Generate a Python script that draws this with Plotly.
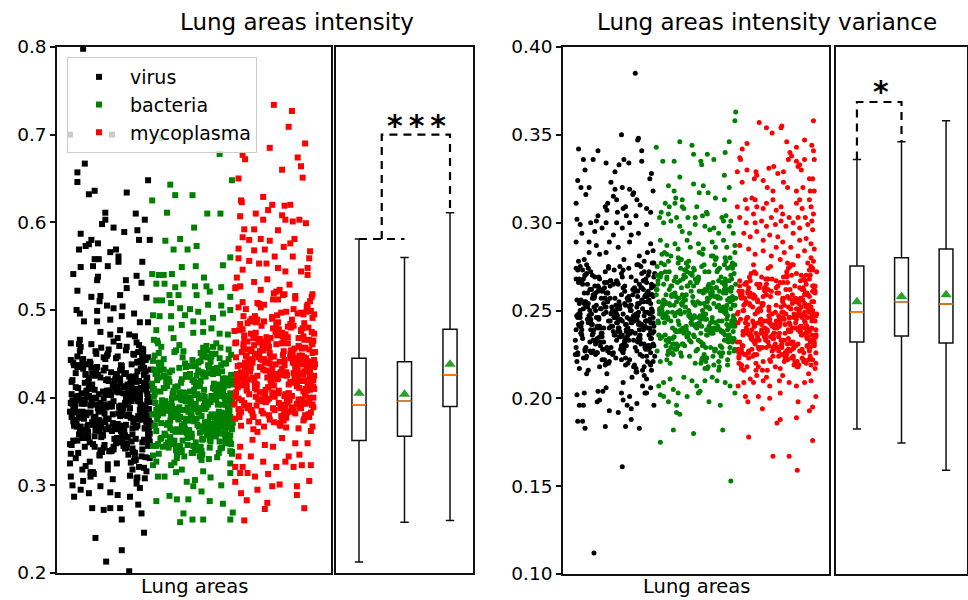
import plotly.graph_objects as go

# ---------------- data ----------------
CATEGORIES = ["virus", "bacteria", "mycoplasma"]
COLORS = ["#000000", "#008000", "#ff0000"]
LEFT_TICKS = [0.2, 0.3, 0.4, 0.5, 0.6, 0.7, 0.8]
RIGHT_TICKS = [0.10, 0.15, 0.20, 0.25, 0.30, 0.35, 0.40]

# box statistics
L_Q1 = [0.351, 0.356, 0.390]
L_MED = [0.392, 0.396, 0.426]
L_Q3 = [0.445, 0.441, 0.478]
L_LO = [0.2125, 0.258, 0.260]
L_HI = [0.581, 0.560, 0.611]
L_MEAN = [0.405, 0.404, 0.438]
R_Q1 = [0.232, 0.2355, 0.2315]
R_MED = [0.249, 0.255, 0.2537]
R_Q3 = [0.2753, 0.280, 0.285]
R_LO = [0.1825, 0.1746, 0.159]
R_HI = [0.336, 0.346, 0.358]
R_MEAN = [0.255, 0.258, 0.259]

# significance brackets (pair base heights, bracket top)
L_SIG = {"base_a": 0.581, "top": 0.700, "base_b": 0.611, "label": "<b>*\u2009*\u2009*</b>"}
R_SIG = {"base_a": 0.336, "top": 0.3687, "base_b": 0.346, "label": "<b>*</b>"}

# shared jitter lists (hundredths of a category width)
JIT_A = [-42, 17, -5, 33, -28, 46, 8, -37, 21, -14, 39, -48, 2, 27, -22, 44, -9, 13, -33, 36,
         -18, 5, 48, -40, 24, -2, -29, 41, 11, -46, 30, -12, 19, -35, 45, -7, 26, -24, 3, 38,
         -44, 15, -17, 34, -31, 9, 47, -26, 22, -3, 40, -38, 6, 29, -20, 43, -11, 16, -47, 31,
         -6, 37, -34, 12, 49, -23, 1, 28, -41, 20, -15, 35, -30, 7, 42, -19, 25, -45, 14, -1,
         32, -36, 10, 46, -27, 18, -8, 39, -43, 23, -13, 4, 36, -32, 27, -21, 44, -4, 11, -39,
         21, -49, 33, 0, -25, 40, -16, 8, 48, -35, 15, -10, 30, -42, 24, -6, 45, -28, 2, 37,
         -14, 26, -37, 13, 43, -22, 6, -45, 34, -9, 19, -31, 41, -2, 28, -47, 16, -19, 38, -33,
         9, 47, -26, 3, 31, -40, 22, -12, 35, -5, 44, -29, 12, -43, 29, -17, 5, 41, -36, 18,
         -8, 36, -24, 46, -13, 1, 27, -38, 14, -48, 32, -20, 7, 42, -30, 20, -3, 39, -44, 10,
         -27, 25, -15, 48, -34, 4, 33, -11, 45, -41, 17, -23, 38, -1, 23, -46, 30, -18, 12, 43]
JIT_B = [23, -31, 47, -8, 14, -44, 36, -19, 2, 41, -27, 9, -38, 29, -13, 45, -3, 18, -49, 33,
         -22, 6, 39, -35, 12, -16, 48, -29, 25, -6, 43, -41, 16, -11, 31, -46, 4, 37, -24, 20,
         -2, 46, -33, 10, -18, 35, -43, 27, -9, 40, -28, 15, -37, 1, 44, -21, 30, -14, 8, -48,
         38, -26, 13, -5, 42, -39, 21, -16, 34, -45, 7, 28, -32, 17, -10, 47, -25, 3, 36, -42,
         19, -7, 45, -30, 11, -47, 26, -20, 40, -12, 5, 32, -36, 22, -1, 49, -34, 14, -23, 39,
         -15, 29, -40, 8, 43, -27, 0, 35, -44, 18, -9, 24, -31, 46, -4, 13, -38, 31, -17, 41,
         -6, 20, -46, 37, -19, 10, 44, -33, 26, -13, 3, 38, -28, 15, -42, 33, -7, 48, -24, 12,
         -35, 27, -2, 42, -21, 6, 36, -45, 19, -11, 46, -30, 9, -39, 28, -16, 40, -5, 23, -48,
         14, -26, 32, -8, 47, -37, 17, -22, 4, 43, -14, 30, -41, 11, -3, 37, -29, 21, -47, 34,
         -12, 45, -25, 7, 39, -34, 16, -18, 28, -43, 2, 44, -20, 25, -36, 13, -10, 35, -1, 48]
JIT_C = [7, -33, 41, -15, 26, -47, 12, 35, -4, -24, 48, -38, 19, -10, 30, -44, 2, 44, -28, 16]

# ---- left panel: lung areas intensity (values x1000) ----
LV_TAIL_Y = [798, 700, 700, 667, 657, 646, 632, 636, 634, 648, 611, 610, 603, 598, 603, 594, 591, 589, 587, 580,
             575, 576, 573, 569, 580, 580, 569, 566, 561, 558, 558, 550, 549, 550, 555, 555, 541, 538, 534, 539,
             534, 531, 525, 522, 515, 516, 510, 517, 514, 500, 496, 505, 499, 502, 504, 496, 487, 487, 489, 493,
             486, 486, 475, 472, 477, 472, 470,
             325, 310, 300, 287, 295, 291, 274, 272, 274, 274, 261, 278, 268, 246, 240, 226, 213, 202, 310, 299,
             292, 289, 287, 297, 308, 318, 308]
LV_TAIL_J = [-33, -49, 2, -31, -40, -40, -26, -19, 20, 46, -6, 31, -6, -10, 42, 4, 33, 17, -36, -23,
             -26, -15, -30, -38, 35, 48, 7, 0, 10, -19, -14, -21, -36, -3, 10, 39, -45, -15, -16, 32,
             19, 38, 20, -40, -23, -12, -13, 12, 44, -41, -37, -4, -16, 4, 15, 29, -32, -16, 0, 14,
             36, 46, -12, 0, 12, 23, 30,
             -49, -48, -46, -44, -36, -26, -22, -8, 0, 12, 14, 34, 38, 41, -18, 14, -5, 23, -24, -12,
             0, 9, 24, 36, 42, -34, 32]
LV_CORE1 = [412, 356, 389, 441, 367, 398, 325, 453, 379, 404, 341, 462, 393, 318, 427, 372, 385, 349, 436, 401,
            363, 419, 331, 447, 388, 376, 408, 352, 459, 395, 337, 423, 369, 381, 414, 346, 438, 391, 307, 456,
            383, 361, 429, 397, 344, 468, 374, 410, 335, 450, 387, 358, 421, 399, 313, 443, 366, 405, 378, 329,
            434, 392, 354, 416, 371, 461, 339, 403, 384, 348, 426, 396, 322, 445, 365, 409, 377, 351, 432, 390,
            302, 458, 382, 360, 418, 394, 343, 439, 373, 406, 334, 464, 386, 355, 424, 400, 316, 448, 368, 411,
            380, 347, 430, 393, 327, 452, 370, 407, 359, 437, 389, 338, 420, 397, 311, 444, 375, 402, 362, 433,
            384, 350, 466, 391, 332, 415, 364, 440, 379, 357, 428, 398, 320, 455, 372, 404, 345, 425, 387, 305,
            447, 366, 413, 381, 353, 435, 395, 340, 460, 376, 408, 361, 422, 390, 328, 450, 369, 417, 383, 342,
            431, 399, 315, 446, 374, 403, 358, 437, 386, 336, 463, 378, 412, 365, 427, 392, 324, 449, 371, 406,
            354, 419, 388, 346, 442, 396, 309, 457, 380, 401, 363, 434, 375, 339, 424, 393, 330, 453, 368, 410]
LV_CORE2 = [381, 417, 352, 399, 436, 368, 405, 344, 390, 426, 361, 412, 377, 449, 335, 396, 421, 357, 384, 440,
            372, 408, 349, 393, 431, 364, 414, 380, 326, 403, 445, 370, 388, 355, 424, 397, 341, 411, 383, 458,
            366, 401, 433, 350, 392, 419, 375, 342, 407, 386, 438, 359, 398, 429, 373, 315, 410, 385, 354, 443,
            379, 402, 362, 420, 391, 337, 415, 369, 452, 387, 348, 404, 376, 427, 358, 395, 441, 371, 409, 331,
            400, 382, 423, 363, 389, 346, 413, 378, 455, 394, 353, 418, 367, 406, 339, 432, 384, 360, 397, 447,
            374, 410, 351, 425, 388, 369, 403, 321, 437, 380, 357, 416, 393, 345, 408, 385, 461, 366, 399, 434,
            372, 343, 420, 390, 356, 407, 377, 444, 396, 362, 414, 333, 401, 386, 428, 368, 392, 350, 439, 379,
            405, 365, 419, 383, 347, 411, 397, 373, 454, 389, 358, 426, 370, 402, 338, 435, 381, 364, 409, 394,
            353, 422, 376, 446, 387, 361, 412, 399, 344, 430, 374, 406, 367, 390, 318, 442, 383, 355, 418, 396,
            371, 404, 349, 427, 385, 363, 413, 378, 450, 392, 340, 421, 369, 400, 359, 437, 387, 375, 408, 395]

LB_TAIL_Y = [696, 678, 648, 643, 631, 631, 625, 611, 610, 610, 594, 579, 581, 569, 569, 573, 560, 549, 550, 551,
             541, 540, 540, 541, 530, 530, 526, 530, 527, 537, 527, 526, 517, 517, 517, 521, 515, 511, 511, 508,
             502, 501, 498, 506, 505, 500, 494, 493, 493, 494, 487, 486, 491, 496, 479, 483, 474, 475, 479, 473,
             472, 477,
             282, 288, 284, 284, 293, 282, 279, 269, 261, 268, 258, 261, 261, 310, 310, 315, 304, 299, 306, 309,
             300, 323, 314, 316, 318]
LB_TAIL_J = [-38, 33, 48, -27, -21, 0, -49, -31, 18, 34, 2, -33, -15, -23, -6, 5, 46, -13, 4, 37,
             -49, -41, -35, -25, -44, -34, -21, -11, 3, 14, 17, 35, -28, -17, 5, 21, 46, -44, -37, -26,
             -15, -3, 7, 19, 35, 46, -48, -40, -26, -9, 1, 13, 25, 37, -26, -13, 1, 13, 23, 33,
             43, -44,
             -44, -28, -19, -5, 11, 21, 37, 49, 46, -11, -15, 0, 13, -42, -34, -20, -7, 1, 3, 22,
             35, -48, 46, 13, -13]
LB_CORE1 = [398, 421, 347, 376, 452, 362, 409, 334, 387, 439, 355, 413, 371, 462, 340, 393, 427, 358, 381, 445,
            326, 404, 368, 432, 352, 389, 417, 343, 458, 375, 401, 336, 424, 364, 392, 448, 349, 411, 378, 330,
            436, 357, 396, 419, 341, 383, 465, 366, 405, 353, 429, 372, 388, 345, 455, 361, 414, 338, 399, 442,
            369, 323, 426, 384, 351, 407, 378, 460, 342, 394, 431, 356, 418, 365, 333, 449, 391, 374, 402, 347,
            437, 360, 385, 422, 329, 410, 370, 454, 348, 397, 425, 363, 382, 441, 337, 415, 359, 390, 468, 373,
            344, 406, 433, 367, 395, 352, 420, 379, 327, 446, 386, 361, 413, 339, 400, 457, 354, 428, 376, 392,
            346, 435, 368, 408, 331, 451, 383, 357, 416, 399, 342, 439, 371, 387, 462, 350, 424, 364, 403, 335,
            444, 377, 396, 358, 412, 340, 430, 381, 369, 453, 325, 419, 388, 353, 401, 434, 362, 374, 447, 345,
            409, 393, 337, 426, 366, 385, 459, 351, 415, 372, 398, 332, 440, 379, 356, 422, 390, 343, 466, 367,
            404, 348, 431, 384, 360, 411, 395, 338, 450, 375, 418, 354, 387, 427, 344, 402, 370, 437, 359, 392]
LB_CORE2 = [389, 361, 424, 402, 347, 378, 441, 395, 356, 417, 382, 334, 409, 370, 452, 392, 364, 428, 385, 343,
            413, 376, 399, 435, 358, 394, 421, 367, 339, 404, 381, 446, 372, 411, 353, 397, 430, 363, 387, 418,
            345, 401, 375, 457, 391, 360, 426, 383, 350, 407, 396, 438, 369, 414, 341, 388, 403, 365, 432, 379,
            354, 419, 393, 448, 371, 408, 337, 398, 423, 362, 386, 412, 349, 440, 377, 400, 366, 427, 390, 355,
            415, 384, 344, 405, 374, 454, 396, 359, 420, 381, 368, 436, 392, 346, 410, 378, 402, 363, 429, 387,
            352, 416, 372, 443, 399, 357, 406, 383, 338, 425, 394, 366, 411, 380, 450, 389, 348, 418, 373, 404,
            361, 433, 397, 353, 414, 385, 342, 407, 376, 439, 392, 369, 422, 382, 356, 401, 447, 364, 412, 388,
            333, 419, 379, 403, 360, 431, 395, 351, 408, 374, 444, 386, 367, 426, 398, 345, 413, 381, 391, 358,
            435, 370, 405, 349, 421, 390, 377, 458, 362, 409, 384, 340, 417, 396, 371, 428, 355, 400, 386, 442,
            365, 411, 378, 336, 424, 393, 359, 406, 373, 451, 389, 347, 415, 380, 402, 368, 434, 384, 353, 420]

LM_TAIL_Y = [734, 727, 709, 690, 685, 677, 672, 674, 664, 660, 651, 650, 629, 625, 623, 620, 619, 620, 614, 607,
             610, 603, 608, 603, 601, 603, 599, 592, 592, 591, 583, 580, 581, 579, 581, 572, 576, 567, 570, 568,
             569, 561, 561, 559, 559, 556, 553, 553, 548, 544, 544, 548, 546,
             304, 291, 283, 260, 295, 273, 280, 299, 301, 299, 289, 274, 305, 314, 314, 310, 313, 321, 323, 323,
             321, 321, 321, 327, 327, 333, 333, 344, 333, 335, 352, 346, 348, 348, 344, 354, 361, 367, 378]
LM_TAIL_J = [-1, 21, 17, 37, -6, -39, -36, 28, 32, 9, 34, -44, -14, -41, -40, -3, 12, 19, -8, -42,
             -23, -14, 9, 13, 22, 30, 38, -37, -25, 4, -39, -31, -17, -6, 24, 11, 19, 43, -44, -25,
             -12, 0, 22, 42, -44, -31, -19, -10, 4, 13, 32, 40, -39,
             -48, -41, -34, -37, -21, -12, -9, -3, 6, 27, 27, 36, 42, -42, -33, -24, -8, 23, 33, 44,
             -39, -48, 2, 13, -14, -29, -44, -2, 17, 30, -27, -12, 25, 40, -42, 9, -21, 46, 42]
LM_CORE1 = [428, 391, 465, 412, 377, 503, 446, 398, 521, 433, 382, 474, 419, 365, 487, 441, 406, 529, 393, 456,
            415, 371, 498, 437, 402, 482, 425, 386, 513, 451, 409, 368, 469, 431, 395, 537, 422, 380, 493, 448,
            403, 461, 388, 517, 435, 374, 477, 416, 397, 506, 443, 383, 467, 427, 362, 489, 411, 454, 392, 525,
            438, 378, 472, 420, 400, 509, 447, 385, 479, 413, 369, 496, 434, 405, 459, 389, 532, 424, 376, 484,
            445, 399, 515, 430, 381, 463, 417, 372, 500, 440, 394, 476, 426, 387, 519, 452, 408, 366, 486, 432,
            396, 468, 414, 379, 510, 444, 401, 470, 423, 384, 535, 439, 373, 491, 418, 404, 457, 390, 523, 436,
            375, 480, 421, 393, 507, 449, 383, 464, 428, 367, 494, 410, 455, 397, 527, 442, 380, 473, 416, 402,
            501, 434, 388, 466, 425, 370, 485, 412, 450, 395, 518, 437, 377, 478, 419, 406, 540, 446, 385, 462,
            429, 364, 497, 441, 400, 471, 415, 391, 512, 433, 382, 458, 424, 374, 490, 407, 453, 389, 526, 438,
            403, 475, 420, 368, 504, 447, 394, 467, 431, 378, 483, 411, 398, 516, 440, 386, 460, 427, 372, 495]
LM_CORE2 = [437, 402, 468, 419, 385, 451, 426, 394, 489, 432, 408, 376, 461, 441, 415, 499, 423, 389, 455, 430,
            406, 478, 443, 397, 422, 512, 434, 381, 465, 417, 448, 400, 484, 428, 392, 458, 436, 411, 471, 445,
            387, 426, 503, 439, 404, 462, 420, 378, 450, 433, 413, 493, 441, 398, 467, 425, 409, 481, 446, 390,
            430, 457, 416, 518, 438, 401, 475, 422, 384, 454, 443, 407, 487, 429, 395, 463, 434, 418, 498, 447,
            388, 427, 470, 412, 440, 399, 459, 431, 379, 482, 444, 405, 466, 421, 393, 508, 437, 414, 453, 426,
            402, 476, 442, 386, 460, 419, 435, 497, 410, 448, 396, 469, 428, 383, 456, 439, 415, 490, 424, 403,
            464, 445, 391, 472, 430, 409, 523, 436, 398, 457, 418, 441, 380, 479, 427, 406, 462, 447, 394, 485,
            433, 412, 468, 421, 389, 452, 440, 403, 495, 426, 416, 473, 437, 385, 459, 444, 408, 480, 431, 397,
            466, 420, 450, 392, 506, 438, 413, 461, 425, 401, 477, 446, 388, 455, 432, 417, 492, 442, 399, 470,
            423, 382, 458, 435, 410, 486, 448, 395, 463, 429, 405, 474, 439, 414, 501, 427, 390, 453, 443, 419]

# ---- right panel: lung areas intensity variance (values x1000) ----
RV_TAIL_Y = [385, 350, 348, 347, 342, 341, 341, 336, 336, 334, 333, 336, 334, 335, 330, 329, 328, 325, 324, 323,
             320, 320, 316, 319, 320, 319, 316, 317, 318, 311, 309, 311, 315, 313, 309, 310, 308, 306, 313, 307,
             306, 308, 302, 304, 304, 304, 299, 300, 301, 300, 300, 300, 299, 294, 295, 297, 293, 297, 293, 294,
             289, 287, 289, 286, 289, 288, 284, 289, 283, 282, 283, 281, 283,
             202, 203, 196, 196, 187, 187, 183, 204, 199, 198, 204, 184, 193, 192, 203, 199, 184, 196, 201, 194,
             188, 183, 197, 203, 203, 196, 161, 207, 206, 209, 206, 112]
RV_TAIL_J = [25, 8, 29, 28, -45, -21, 33, -39, -27, -11, 5, 11, 17, 33, -37, 0, 45, 43, -46, -5,
             -42, -32, -36, 0, 9, 18, 22, 23, 47, -48, -12, -9, -2, 2, 13, 31, 39, 44, 27, -10,
             3, 10, -47, -21, 14, 26, -43, -30, -23, -11, 2, 18, 39, -41, -25, -16, -2, 9, 20, 29,
             -32, -23, -7, 4, 18, 44, 47, -48, -32, -19, -11, 30, 40,
             -47, -38, -44, -39, -46, -40, -37, -21, -19, -22, -15, -12, -7, 4, 8, 10, 13, 15, 18, 20,
             20, 30, 27, 37, 39, 48, 9, 34, 44, 10, -11, -26]
RV_CORE1 = [247, 262, 231, 275, 239, 254, 218, 268, 243, 228, 259, 236, 279, 249, 222, 265, 241, 256, 233, 271,
            226, 251, 244, 214, 261, 237, 277, 248, 229, 257, 240, 266, 220, 252, 234, 273, 245, 258, 225, 269,
            238, 250, 216, 263, 232, 255, 246, 276, 227, 260, 242, 235, 270, 253, 219, 264, 239, 248, 230, 274,
            244, 257, 223, 267, 236, 251, 212, 261, 241, 278, 228, 254, 247, 233, 266, 221, 258, 243, 272, 237,
            250, 226, 263, 245, 231, 256, 217, 269, 240, 252, 235, 275, 229, 259, 246, 224, 265, 238, 253, 211,
            262, 242, 234, 271, 248, 227, 257, 239, 268, 222, 255, 244, 232, 277, 249, 219, 260, 236, 251, 230,
            267, 243, 225, 258, 241, 273, 234, 254, 215, 263, 247, 228, 270, 238, 256, 242, 221, 264, 250, 233,
            276, 245, 226, 259, 240, 253, 213, 266, 237, 249, 230, 272, 244, 223, 261, 235, 255, 248, 218, 268,
            239, 252, 231, 274, 246, 227, 258, 241, 265, 220, 254, 243, 236, 279, 250, 229, 262, 238, 247, 216,
            257, 234, 269, 245, 224, 260, 240, 251, 232, 275, 248, 226, 263, 237, 255, 242, 214, 267, 246, 230]
RV_CORE2 = [241, 256, 229, 263, 236, 249, 222, 270, 245, 232, 258, 239, 267, 252, 226, 243, 260, 234, 274, 247,
            230, 255, 238, 265, 219, 250, 242, 261, 228, 246, 235, 272, 253, 224, 259, 240, 248, 231, 266, 244,
            217, 257, 237, 251, 227, 269, 243, 233, 262, 249, 221, 254, 238, 276, 245, 229, 260, 236, 247, 225,
            264, 241, 252, 232, 271, 246, 223, 258, 239, 250, 228, 267, 244, 235, 256, 218, 262, 248, 230, 273,
            242, 253, 226, 259, 237, 245, 220, 266, 250, 233, 257, 240, 278, 247, 227, 261, 238, 252, 231, 268,
            243, 225, 255, 236, 264, 249, 222, 259, 241, 271, 246, 229, 254, 237, 263, 244, 216, 257, 233, 249,
            240, 267, 228, 253, 245, 234, 275, 242, 224, 260, 238, 250, 230, 265, 247, 221, 256, 235, 268, 243,
            227, 258, 239, 251, 232, 273, 246, 219, 262, 241, 254, 226, 264, 248, 234, 257, 240, 270, 223, 252,
            244, 231, 260, 237, 266, 249, 215, 255, 242, 229, 263, 246, 235, 272, 239, 253, 225, 258, 241, 248,
            233, 261, 228, 269, 245, 238, 256, 220, 251, 243, 274, 232, 259, 236, 247, 226, 265, 240, 254, 230]

RB_TAIL_Y = [363, 358, 343, 346, 344, 339, 339, 336, 340, 346, 335, 335, 335, 333, 326, 327, 321, 322, 321, 320,
             317, 317, 318, 314, 313, 311, 309, 311, 309, 309, 314, 313, 306, 305, 306, 303, 305, 303, 308, 303,
             303, 304, 303, 304, 301, 301, 300, 301, 298, 295, 294, 299, 298, 296, 297, 294, 298, 294, 290, 287,
             288, 285, 290, 286, 288, 285, 289, 286, 290, 286, 287, 283,
             207, 202, 201, 205, 203, 198, 196, 201, 203, 204, 207, 191, 192, 182, 198, 196, 180, 182, 175, 203,
             207, 209, 212, 210, 209, 211, 210, 212, 210, 153]
RB_TAIL_J = [49, 48, -49, -20, -5, -3, 14, 22, 36, 41, -41, -27, 6, 7, -20, 35, -34, -3, 9, 41,
             4, 15, -27, -25, -17, -38, -33, -26, -17, 1, 24, 35, 13, 14, -43, -45, -34, -24, -15, -10,
             -1, 8, 32, 37, 43, 34, -40, -31, -20, -17, -8, -1, 11, 17, 22, 28, 41, 46, -44, -36,
             -26, -22, -11, -7, 3, 9, 20, 24, 34, 38, 48, 48,
             -46, -44, -40, -28, -22, -34, -24, -11, 3, 5, 1, -20, -24, -28, 16, 30, -3, 33, -44, 48,
             42, 36, 20, 26, -40, -32, 11, -15, -5, 43]
RB_CORE1 = [252, 238, 271, 226, 259, 244, 282, 233, 266, 249, 219, 275, 241, 257, 230, 268, 247, 223, 262, 236,
            279, 254, 228, 265, 243, 273, 234, 256, 217, 270, 250, 239, 263, 225, 277, 246, 258, 231, 269, 242,
            221, 264, 253, 237, 281, 248, 227, 260, 240, 274, 232, 255, 245, 218, 267, 251, 235, 272, 243, 224,
            261, 249, 278, 229, 257, 238, 266, 216, 254, 246, 270, 233, 259, 241, 280, 226, 263, 250, 236, 268,
            244, 222, 276, 253, 231, 260, 247, 239, 271, 228, 256, 242, 265, 220, 273, 249, 234, 258, 245, 283,
            237, 262, 251, 227, 269, 240, 255, 230, 276, 246, 218, 264, 252, 235, 279, 243, 258, 225, 267, 248,
            239, 272, 254, 223, 261, 244, 232, 270, 250, 237, 281, 229, 257, 247, 221, 265, 241, 274, 253, 234,
            260, 245, 228, 268, 238, 256, 219, 277, 249, 242, 263, 231, 252, 271, 226, 259, 246, 236, 282, 243,
            224, 266, 255, 233, 273, 240, 258, 248, 217, 262, 251, 238, 275, 229, 264, 244, 254, 222, 269, 247,
            235, 280, 257, 241, 227, 261, 250, 272, 232, 253, 239, 266, 245, 220, 276, 255, 230, 263, 248, 242]
RB_CORE2 = [258, 244, 271, 233, 262, 249, 280, 239, 255, 226, 267, 247, 236, 274, 252, 241, 264, 229, 259, 250,
            277, 237, 256, 245, 221, 268, 253, 240, 263, 232, 275, 248, 257, 235, 269, 243, 283, 251, 228, 261,
            246, 238, 272, 254, 224, 265, 249, 241, 278, 234, 259, 252, 230, 266, 244, 257, 239, 273, 250, 227,
            262, 247, 236, 270, 255, 243, 281, 231, 260, 248, 222, 267, 253, 240, 275, 245, 258, 233, 264, 250,
            238, 271, 256, 226, 262, 244, 252, 279, 235, 259, 247, 229, 268, 254, 241, 265, 232, 257, 249, 274,
            237, 261, 246, 223, 270, 253, 242, 276, 234, 258, 250, 228, 264, 245, 255, 239, 272, 251, 231, 267,
            243, 260, 236, 278, 248, 225, 263, 254, 240, 269, 246, 233, 259, 252, 282, 238, 266, 244, 229, 261,
            249, 273, 235, 256, 242, 220, 268, 251, 237, 264, 247, 258, 231, 276, 253, 240, 262, 245, 227, 270,
            255, 239, 266, 248, 234, 259, 251, 280, 243, 263, 230, 257, 246, 272, 236, 260, 249, 224, 267, 252,
            241, 274, 238, 261, 247, 233, 265, 254, 244, 277, 228, 256, 250, 239, 269, 245, 235, 262, 253, 242]

RM_TAIL_Y = [357, 354, 351, 354, 355, 358, 342, 345, 346, 343, 347, 344, 341, 337, 336, 340, 338, 336, 335, 336,
             336, 333, 329, 330, 329, 327, 331, 332, 328, 329, 332, 330, 325, 325, 323, 325, 324, 320, 318, 323,
             320, 318, 320, 318, 318, 309, 313, 308, 314, 313, 309, 308, 311, 313, 307, 309, 305, 303, 311, 313,
             308, 313, 309, 305, 303, 303, 303, 300, 305, 300, 301, 298, 303, 299, 301, 298, 300, 297, 299, 301,
             296, 294, 292, 295, 290, 293, 292, 289, 294, 290, 291, 288, 287, 285, 282, 284, 281, 286, 283, 286,
             281, 284, 280, 285,
             201, 198, 201, 194, 186, 188, 178, 167, 167, 159, 189, 198, 193, 195, 201, 176, 203, 200, 207, 209,
             209, 210, 207, 210, 209, 207, 209, 210, 214, 211, 213, 212, 213]
RM_TAIL_J = [-22, -13, -6, 5, 6, 45, -43, -37, 12, 24, 34, 43, 45, -46, -45, 16, 18, 14, 24, 34,
             46, 28, -49, -37, -26, -25, -10, -4, 1, 8, 26, 30, 40, 44, -43, -28, -17, -12, -5, 8,
             13, 24, 32, 41, 46, -49, -39, -37, -31, -27, -25, -17, -13, -5, -1, 5, 7, 15, 24, 28,
             31, 40, 42, 45, 35, 26, -46, -38, -29, -27, -19, -13, -7, -2, 5, 11, 20, 28, 38, 43,
             44, -41, -33, -25, -17, -9, 1, 7, 20, 28, 36, 42, -46, -35, -27, -17, -7, -1, 9, 17,
             26, 34, 42, 46,
             -39, -36, -23, -18, 0, 4, -35, -5, 15, 25, 24, 26, 40, 44, 48, 44, 4, -9, -48, -41,
             -29, -17, -9, 3, 15, 24, 34, 42, 39, -33, -25, -13, 7]
RM_CORE1 = [243, 228, 261, 235, 252, 219, 270, 239, 247, 224, 258, 233, 266, 241, 229, 255, 237, 276, 248, 221,
            263, 231, 250, 226, 272, 244, 236, 259, 218, 268, 240, 253, 227, 262, 246, 232, 279, 238, 256, 223,
            249, 234, 267, 242, 216, 260, 230, 254, 245, 273, 225, 257, 237, 264, 222, 251, 240, 234, 269, 228,
            246, 220, 258, 236, 275, 243, 229, 262, 249, 226, 255, 238, 271, 232, 247, 217, 265, 241, 252, 230,
            259, 235, 278, 244, 224, 261, 239, 250, 227, 268, 233, 256, 242, 221, 263, 248, 236, 274, 229, 253,
            240, 257, 225, 266, 246, 231, 260, 237, 219, 270, 243, 251, 234, 262, 228, 277, 245, 223, 258, 239,
            248, 232, 267, 241, 254, 226, 264, 236, 218, 259, 244, 230, 272, 238, 250, 222, 261, 247, 235, 269,
            227, 256, 242, 233, 265, 249, 220, 258, 240, 274, 231, 252, 245, 225, 263, 237, 268, 229, 255, 243,
            234, 271, 247, 221, 260, 239, 251, 228, 266, 244, 236, 257, 216, 262, 241, 230, 276, 248, 224, 254,
            238, 264, 233, 246, 222, 269, 242, 253, 227, 259, 235, 273, 245, 219, 261, 231, 250, 240, 267, 226,
            257, 237, 229, 263, 248, 223, 270, 243, 234, 255, 239, 265, 228, 252, 241, 217, 260, 246, 232, 275]
RM_CORE2 = [236, 251, 224, 262, 241, 230, 257, 246, 219, 268, 238, 249, 227, 255, 233, 274, 243, 222, 260, 240,
            229, 252, 236, 265, 245, 218, 257, 232, 248, 226, 270, 239, 254, 223, 261, 242, 231, 250, 237, 277,
            228, 246, 221, 259, 235, 253, 244, 216, 264, 230, 249, 240, 225, 267, 237, 255, 232, 246, 220, 262,
            241, 234, 258, 227, 272, 243, 229, 251, 238, 224, 263, 247, 233, 256, 219, 269, 240, 245, 228, 253,
            236, 260, 223, 248, 242, 231, 275, 239, 226, 257, 244, 217, 265, 234, 250, 229, 261, 237, 222, 254,
            246, 232, 268, 240, 225, 258, 235, 249, 220, 263, 243, 230, 252, 238, 271, 227, 255, 241, 224, 260,
            233, 247, 218, 266, 236, 251, 229, 259, 244, 222, 256, 239, 273, 231, 248, 226, 262, 242, 235, 253,
            221, 264, 237, 245, 228, 257, 240, 216, 267, 234, 250, 243, 225, 261, 238, 254, 230, 270, 246, 223,
            258, 236, 249, 232, 265, 241, 219, 255, 239, 227, 263, 245, 233, 252, 224, 276, 240, 229, 257, 237,
            248, 221, 261, 235, 254, 243, 226, 268, 231, 250, 238, 218, 259, 244, 230, 264, 236, 253, 227, 247]

LEFT_GROUPS = [
    [(LV_TAIL_Y, LV_TAIL_J), (LV_CORE1, JIT_A), (LV_CORE2, JIT_B)],
    [(LB_TAIL_Y, LB_TAIL_J), (LB_CORE1, JIT_B), (LB_CORE2, JIT_A)],
    [(LM_TAIL_Y, LM_TAIL_J), (LM_CORE1, JIT_B), (LM_CORE2, JIT_A)],
]
RIGHT_GROUPS = [
    [(RV_TAIL_Y, RV_TAIL_J), (RV_CORE1, JIT_B), (RV_CORE2, JIT_A)],
    [(RB_TAIL_Y, RB_TAIL_J), (RB_CORE1, JIT_A), (RB_CORE2, JIT_B)],
    [(RM_TAIL_Y, RM_TAIL_J), (RM_CORE1, JIT_B + JIT_C), (RM_CORE2, JIT_A)],
]

# ---------------- layout helpers ----------------
W, H = 968, 600
FONT = "DejaVu Sans"
INK = "#111111"


def fx(p):
    return p / W


def fy(p):
    return 1 - p / H


def points(idx, segments):
    xs, ys = [], []
    for yv, jv in segments:
        for v, j in zip(yv, jv):
            xs.append(idx + j / 100.0)
            ys.append(v / 1000.0)
    return xs, ys


fig = go.Figure()

for i, (name, col, segs) in enumerate(zip(CATEGORIES, COLORS, LEFT_GROUPS)):
    xs, ys = points(i, segs)
    fig.add_trace(go.Scatter(x=xs, y=ys, mode="markers", name=name, xaxis="x", yaxis="y",
                             marker=dict(symbol="square", size=6, color=col, line=dict(width=0)),
                             showlegend=True))

for i, (name, col, segs) in enumerate(zip(CATEGORIES, COLORS, RIGHT_GROUPS)):
    xs, ys = points(i, segs)
    fig.add_trace(go.Scatter(x=xs, y=ys, mode="markers", name=name, xaxis="x3", yaxis="y3",
                             marker=dict(symbol="circle", size=5, color=col, line=dict(width=0)),
                             showlegend=False))

POS = [0, 1, 2]


def add_boxes(xa, ya, q1, med, q3, lo, hi, mean):
    fig.add_trace(go.Box(x=POS, q1=q1, median=med, q3=q3, lowerfence=lo, upperfence=hi,
                         xaxis=xa, yaxis=ya, width=0.31, whiskerwidth=0.6, boxpoints=False,
                         line=dict(color=INK, width=1.5), fillcolor="white", showlegend=False))
    fig.add_trace(go.Box(x=POS, q1=med, median=med, q3=med, lowerfence=med, upperfence=med,
                         xaxis=xa, yaxis=ya, width=0.31, whiskerwidth=0, boxpoints=False,
                         line=dict(color="#ff7f0e", width=1.5), fillcolor="rgba(0,0,0,0)",
                         showlegend=False))
    fig.add_trace(go.Scatter(x=POS, y=mean, mode="markers", xaxis=xa, yaxis=ya, showlegend=False,
                             marker=dict(symbol="triangle-up", size=10, color="#2ca02c",
                                         line=dict(width=0))))


add_boxes("x2", "y2", L_Q1, L_MED, L_Q3, L_LO, L_HI, L_MEAN)
add_boxes("x4", "y4", R_Q1, R_MED, R_Q3, R_LO, R_HI, R_MEAN)

DASH = dict(color="black", width=2.2, dash="8px,6px")
# left bracket: virus+bacteria pooled vs mycoplasma
fig.add_trace(go.Scatter(x=[0, 1, None, 0.5, 0.5, 2, 2],
                         y=[L_SIG["base_a"], L_SIG["base_a"], None, L_SIG["base_a"], L_SIG["top"],
                            L_SIG["top"], L_SIG["base_b"]],
                         mode="lines", line=DASH, xaxis="x2", yaxis="y2", showlegend=False))
fig.add_trace(go.Scatter(x=[0, 0, 1, 1],
                         y=[R_SIG["base_a"], R_SIG["top"], R_SIG["top"], R_SIG["base_b"]],
                         mode="lines", line=DASH, xaxis="x4", yaxis="y4", showlegend=False))

frame = dict(showline=True, mirror=True, linecolor=INK, linewidth=1.5, showgrid=False,
             zeroline=False, automargin=False)
tick_y = dict(ticks="outside", ticklen=5, tickwidth=1.5, tickcolor=INK,
              tickfont=dict(family=FONT, size=18.5, color="black"))
no_ticks = dict(ticks="", showticklabels=False)

L_DOM_Y = [fy(573), fy(47)]
R_DOM_Y = [fy(574), fy(47)]


def ann(text, x, y, size, xref="paper", yref="paper"):
    return dict(text=text, x=x, y=y, xref=xref, yref=yref, showarrow=False,
                xanchor="center", yanchor="middle",
                font=dict(size=size, family=FONT, color="black"))


fig.update_layout(
    template="none",
    width=W, height=H, margin=dict(l=0, r=0, t=0, b=0, pad=0, autoexpand=False),
    paper_bgcolor="white", plot_bgcolor="white", hovermode=False, boxmode="overlay",
    font=dict(family=FONT, color="black"),
    xaxis=dict(domain=[fx(57), fx(331)], range=[-0.648, 2.685], anchor="y", **frame, **no_ticks),
    yaxis=dict(domain=L_DOM_Y, range=[0.2, 0.8], anchor="x", **frame, **tick_y,
               tickvals=LEFT_TICKS, ticktext=[f"{t:.1f}" for t in LEFT_TICKS]),
    xaxis2=dict(domain=[fx(336), fx(473)], range=[-0.505, 2.505], anchor="y2", **frame, **no_ticks),
    yaxis2=dict(domain=L_DOM_Y, range=[0.2, 0.8], anchor="x2", **frame, **no_ticks),
    xaxis3=dict(domain=[fx(563), fx(829)], range=[-0.642, 2.642], anchor="y3", **frame, **no_ticks),
    yaxis3=dict(domain=R_DOM_Y, range=[0.1, 0.4], anchor="x3", **frame, **tick_y,
                tickvals=RIGHT_TICKS, ticktext=[f"{t:.2f}" for t in RIGHT_TICKS]),
    xaxis4=dict(domain=[fx(836), fx(967)], range=[-0.47, 2.47], anchor="y4", **frame, **no_ticks),
    yaxis4=dict(domain=R_DOM_Y, range=[0.1, 0.4], anchor="x4", **frame, **no_ticks),
    legend=dict(x=fx(67), y=fy(57), xanchor="left", yanchor="top",
                bgcolor="rgba(255,255,255,0.8)", bordercolor="#cccccc", borderwidth=1,
                font=dict(family=FONT, size=19, color="black"), itemwidth=52),
    annotations=[
        ann("Lung areas intensity", fx(296.5), fy(22), 23),
        ann("Lung areas intensity variance", fx(766.5), fy(22), 23),
        ann("Lung areas", fx(194.5), fy(586), 19.5),
        ann("Lung areas", fx(696), fy(586), 19.5),
        ann(L_SIG["label"], 1.27, 0.711, 30, "x2", "y2"),
        ann(R_SIG["label"], 0.55, 0.3745, 30, "x4", "y4"),
    ],
)

fig.write_html("out.html")
